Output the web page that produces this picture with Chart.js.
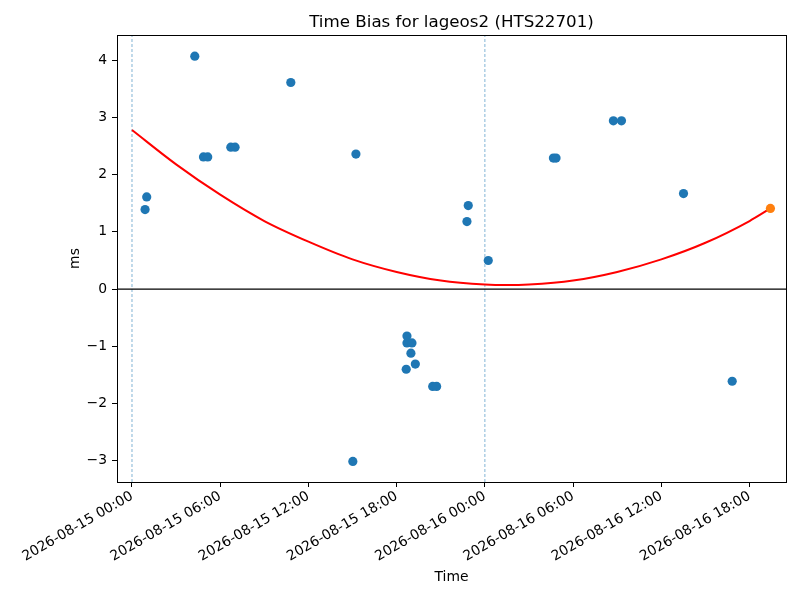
<!DOCTYPE html>
<html>
<head>
<meta charset="utf-8">
<title>Time Bias for lageos2</title>
<script src="https://cdn.jsdelivr.net/npm/chart.js@4/dist/chart.umd.min.js"></script>
<style>
  html, body { margin: 0; padding: 0; background: #fff; }
  #wrap { width: 800px; height: 600px; }
</style>
</head>
<body>
<div id="wrap"><canvas id="biasChart"></canvas></div>
<script>
/* ---------- Data (hours since 2026-08-15 00:00, bias in ms) ---------- */

const obsHours = [0.89, 1.00, 4.27, 4.86, 5.15, 6.72, 7.01, 10.80, 15.23, 15.02,
  18.70, 18.70, 19.04, 18.97, 19.27, 18.65, 20.45, 20.72, 22.78, 22.87,
  24.23, 28.66, 28.84, 32.74, 33.29, 37.51, 40.82];
const obsBias = [1.39, 1.61, 4.07, 2.31, 2.31, 2.48, 2.48, 3.61, 2.36, -3.01,
  -0.82, -0.94, -0.94, -1.12, -1.31, -1.40, -1.70, -1.70, 1.18, 1.46,
  0.50, 2.29, 2.29, 2.94, 2.94, 1.67, -1.61];

const lastHour = [43.42];
const lastBias = [1.41];

const fitHours = [0, 3, 6, 9, 12, 15, 18, 21, 24, 25.5, 27, 30, 33, 36, 39, 42, 43.42];
const fitBias = [2.78, 2.18, 1.65, 1.19, 0.83, 0.52, 0.30, 0.15, 0.08, 0.07, 0.08,
  0.15, 0.30, 0.52, 0.81, 1.19, 1.41];

const dayMarks = [0, 24];
const xTicks = [0, 6, 12, 18, 24, 30, 36, 42];
const yTicks = [-3, -2, -1, 0, 1, 2, 3, 4];

const X_MIN = -1.02, X_MAX = 44.48;
const Y_MIN = -3.37, Y_MAX = 4.44;

const FONT = "'DejaVu Sans', 'Liberation Sans', sans-serif";

/* ---------- Helpers ---------- */

function toPoints(xs, ys) {
  return xs.map((x, i) => ({ x, y: ys[i] }));
}

function pad2(n) {
  return String(n).padStart(2, "0");
}

function hourLabel(h) {
  const day = 15 + Math.floor(h / 24);
  const hr = h - Math.floor(h / 24) * 24;
  return `2026-08-${pad2(day)} ${pad2(hr)}:00`;
}

/* ---------- Plugins ---------- */

const decorations = {
  id: "decorations",
  afterDraw(chart) {
    const { ctx, chartArea: a } = chart;
    ctx.save();
    ctx.strokeStyle = "#000";
    ctx.lineWidth = 1;
    ctx.strokeRect(a.left + 0.5, a.top + 0.5, a.right - a.left, a.bottom - a.top);

    ctx.fillStyle = "#000";
    ctx.font = `16.7px ${FONT}`;
    ctx.textAlign = "center";
    ctx.textBaseline = "alphabetic";
    ctx.fillText("Time Bias for lageos2 (HTS22701)", (a.left + a.right) / 2, 27);

    ctx.font = `13.9px ${FONT}`;
    ctx.textBaseline = "middle";
    ctx.fillText("Time", (a.left + a.right) / 2, 577);

    ctx.translate(75, (a.top + a.bottom) / 2);
    ctx.rotate(-Math.PI / 2);
    ctx.fillText("ms", 0, 0);
    ctx.restore();
  }
};

/* ---------- Chart ---------- */

const dayLineSets = dayMarks.map(h => ({
  type: "line",
  data: [{ x: h, y: Y_MIN }, { x: h, y: Y_MAX }],
  borderColor: "rgba(31,119,180,0.8)",
  borderWidth: 0.7,
  borderDash: [3, 2],
  pointRadius: 0,
  order: 10
}));

new Chart(document.getElementById("biasChart"), {
  type: "scatter",
  data: {
    datasets: [
      ...dayLineSets,
      {
        type: "line",
        data: [{ x: X_MIN, y: 0 }, { x: X_MAX, y: 0 }],
        borderColor: "#000",
        borderWidth: 1.3,
        pointRadius: 0,
        order: 9
      },
      {
        data: toPoints(obsHours, obsBias),
        backgroundColor: "#1f77b4",
        borderWidth: 0,
        pointRadius: 4.6,
        order: 3
      },
      {
        type: "line",
        data: toPoints(fitHours, fitBias),
        borderColor: "#ff0000",
        borderWidth: 2,
        pointRadius: 0,
        cubicInterpolationMode: "monotone",
        fill: false,
        order: 2
      },
      {
        data: toPoints(lastHour, lastBias),
        backgroundColor: "#ff7f0e",
        borderWidth: 0,
        pointRadius: 4.6,
        order: 1
      }
    ]
  },
  options: {
    responsive: true,
    maintainAspectRatio: false,
    animation: false,
    events: [],
    layout: { padding: { top: 35, right: 14, left: 0, bottom: 0 } },
    plugins: {
      legend: { display: false },
      tooltip: { enabled: false },
      title: { display: false }
    },
    scales: {
      x: {
        type: "linear",
        min: X_MIN,
        max: X_MAX,
        afterBuildTicks: s => { s.ticks = xTicks.map(v => ({ value: v })); },
        afterFit: s => { s.height = 118; },
        grid: { drawOnChartArea: false, drawTicks: true, tickLength: 5, tickColor: "#000", tickWidth: 1 },
        border: { display: true, color: "#000", width: 1 },
        ticks: {
          autoSkip: false,
          minRotation: 30,
          maxRotation: 30,
          padding: 1,
          color: "#000",
          font: { family: FONT, size: 13.9 },
          callback: v => hourLabel(v)
        }
      },
      y: {
        type: "linear",
        min: Y_MIN,
        max: Y_MAX,
        afterBuildTicks: s => { s.ticks = yTicks.map(v => ({ value: v })); },
        afterFit: s => { s.width = 117; },
        grid: { drawOnChartArea: false, drawTicks: true, tickLength: 5, tickColor: "#000", tickWidth: 1 },
        border: { display: true, color: "#000", width: 1 },
        ticks: {
          padding: 5,
          color: "#000",
          font: { family: FONT, size: 13.9 },
          callback: v => String(v).replace("-", "\u2212")
        }
      }
    }
  },
  plugins: [decorations]
});
</script>
</body>
</html>
